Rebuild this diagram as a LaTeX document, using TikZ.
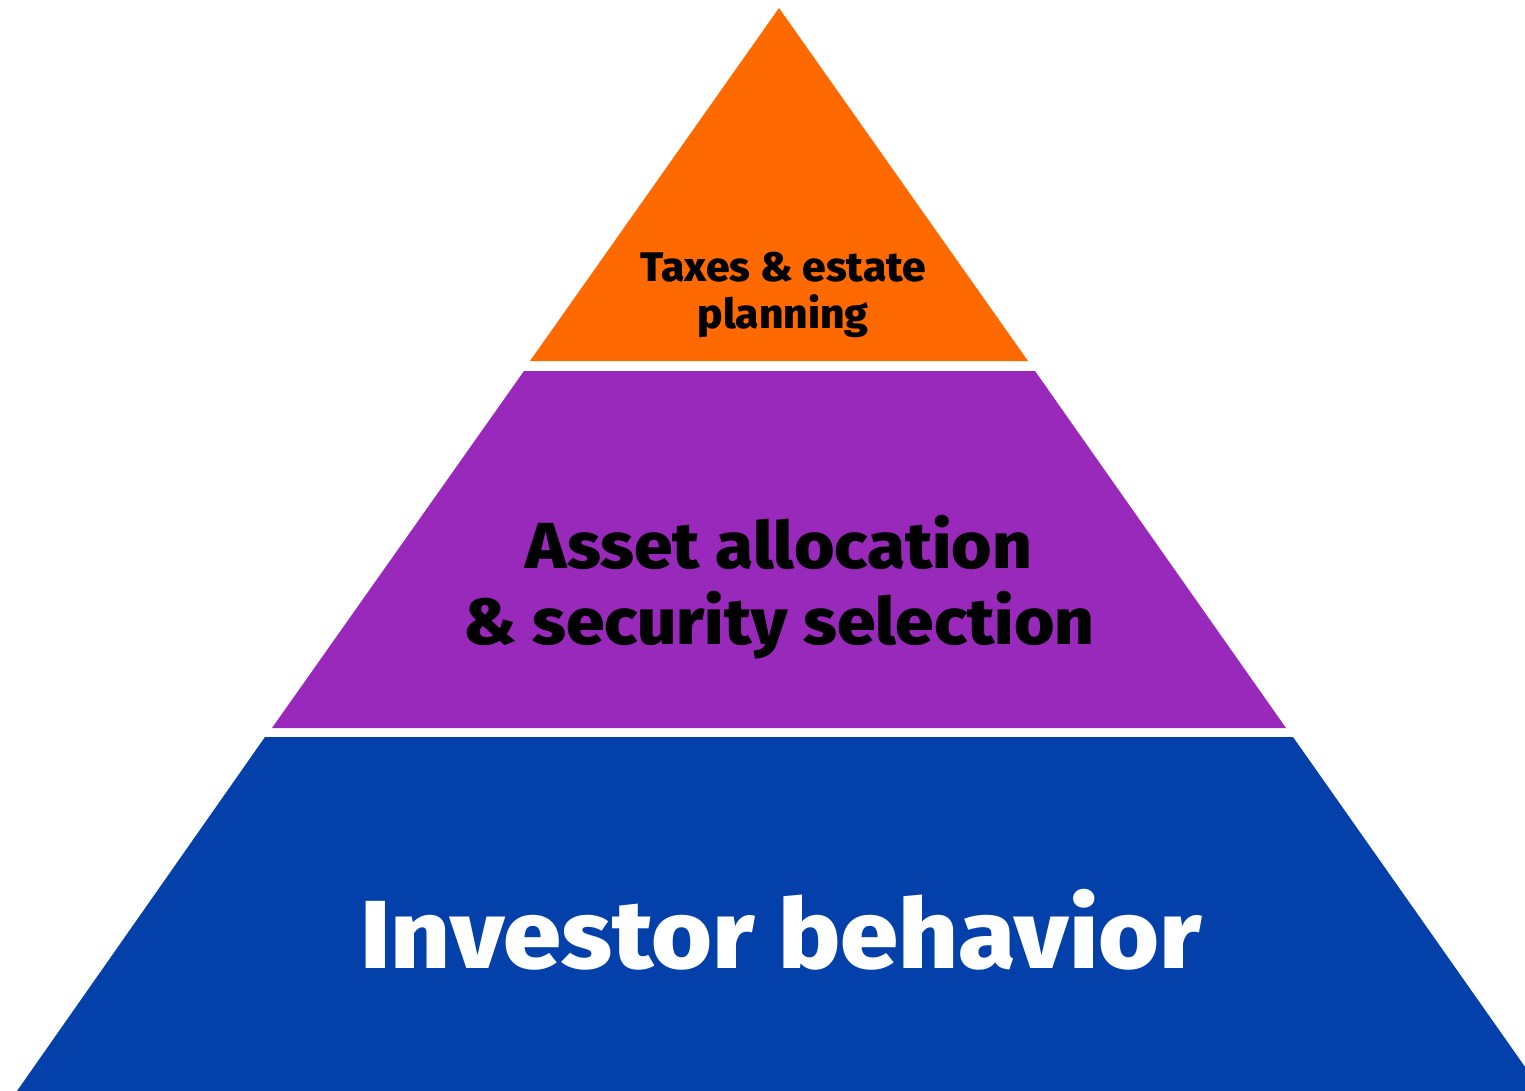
\documentclass[tikz,border=0pt]{standalone}
\usepackage{fontspec}
\setmainfont{Fira Sans}
\newfontfamily\stufeFont{Fira Sans ExtraBold}

\definecolor{tierOrange}{HTML}{FF6A00}
\definecolor{tierPurple}{HTML}{9829BA}
\definecolor{tierBlue}{HTML}{0340AA}

\tikzset{
  tier label/.style={align=center, inner sep=0pt}
}

\begin{document}
\begin{tikzpicture}[x=0.02cm, y=-0.02cm]

\useasboundingbox (0,0) rectangle (1525,1091);
\clip (0,0) rectangle (1525,1091);

% Eckpunkte der drei Stufen
\coordinate (apex) at (779,8);
\coordinate (topL) at (530,361);
\coordinate (topR) at (1028,361);
\coordinate (midTL) at (524,371);
\coordinate (midTR) at (1035,371);
\coordinate (midBL) at (272,728);
\coordinate (midBR) at (1286,728);
\coordinate (botTL) at (265,737);
\coordinate (botTR) at (1293,737);
\coordinate (botBL) at (17,1091);
\coordinate (botBR) at (1542,1091);

% Stufen zeichnen
\fill[tierOrange] (apex) -- (topL) -- (topR) -- cycle;
\fill[tierPurple] (midTL) -- (midBL) -- (midBR) -- (midTR) -- cycle;
\fill[tierBlue] (botTL) -- (botBL) -- (botBR) -- (botTR) -- cycle;

% Beschriftungen
\node[tier label, font=\stufeFont\addfontfeature{FakeStretch=1.03}\fontsize{23.5}{27}\selectfont] (taxes) at (783,295) {Taxes \& estate\\planning};
\node[tier label, font=\stufeFont\addfontfeature{FakeStretch=1.065}\fontsize{37}{43}\selectfont] (asset) at (779,587) {Asset allocation\\\& security selection};
\node[tier label, white, font=\stufeFont\addfontfeature{FakeStretch=1.08}\fontsize{55}{60}\selectfont] (investor) at (781,930) {Investor behavior};

\end{tikzpicture}
\end{document}
